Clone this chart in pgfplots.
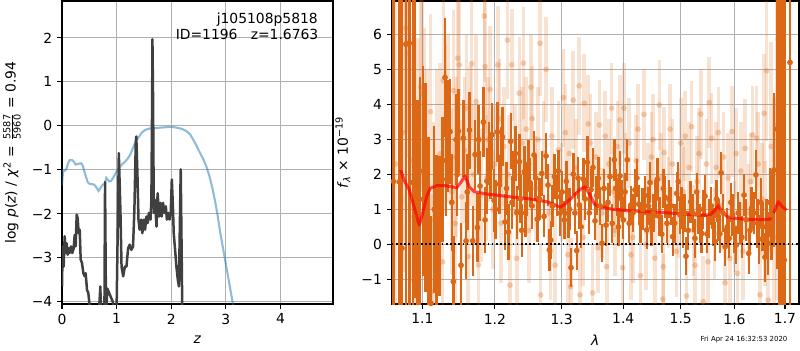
\documentclass[border=0pt]{standalone}
\usepackage{pgfplots}
\pgfplotsset{compat=1.18}
\usepackage{fontspec}
\setmainfont{DejaVu Sans}
\definecolor{dk}{RGB}{220,104,22}
\definecolor{gridc}{RGB}{176,176,176}
\definecolor{bl}{RGB}{31,119,180}
\definecolor{blk}{RGB}{64,64,64}
\pgfplotsset{myax/.style={scale only axis, tick align=outside, tick pos=left,
  major tick length=3.5pt, grid=major, major grid style={gridc, line width=0.8pt},
  axis line style={line width=0.8pt}, every tick/.style={black, line width=0.8pt},
  /pgf/number format/assume math mode=true,
  tick label style={font=\fontsize{10}{12}\selectfont},
  label style={font=\fontsize{10}{12}\selectfont}}}
\begin{document}
\begin{tikzpicture}
\useasboundingbox (0,0) rectangle (576pt,-252pt);
% ---------------- left panel ----------------
\begin{axis}[myax, at={(44.64pt,-218.88pt)}, anchor=south west,
  width=195.12pt, height=218.16pt,
  xmin=0, xmax=4.96, ymin=-4.05, ymax=2.84,
  xtick={0,1,2,3,4}, xticklabels={0,1,2,3,4},
  ytick={-4,-3,-2,-1,0,1,2}, yticklabels={−4,−3,−2,−1,0,1,2},
  xlabel={\textit{z}},
  ylabel={log \textit{p}(\textit{z}) / \textit{χ}\textsuperscript{2} = $\frac{\mbox{\fontsize{7}{7}\selectfont 5587}}{\mbox{\fontsize{7}{7}\selectfont 5960}}$ = 0.94},
  xlabel style={at={(axis description cs:0.5,-0.119)}, anchor=center},
  ylabel style={at={(axis description cs:-0.185,0.5)}, anchor=center},
]
\addplot[bl, opacity=0.5, line width=1.5pt] coordinates {
(0.0,-1.35) (0.02,-1.02) (0.05,-1.02) (0.08,-0.98) (0.11,-0.85) (0.14,-0.78) (0.19,-0.78)
(0.22,-0.82) (0.25,-0.88) (0.30,-0.86) (0.35,-0.85) (0.38,-0.90) (0.42,-1.08) (0.47,-1.28)
(0.51,-1.32) (0.58,-1.33) (0.62,-1.38) (0.67,-1.48) (0.72,-1.38) (0.75,-1.33) (0.78,-1.33)
(0.81,-1.18) (0.86,-1.26) (0.90,-1.25) (0.95,-1.15) (1.0,-1.03) (1.05,-0.95) (1.1,-0.87)
(1.15,-0.82) (1.2,-0.75) (1.25,-0.65) (1.3,-0.50) (1.35,-0.35) (1.4,-0.26) (1.45,-0.17)
(1.5,-0.11) (1.55,-0.08) (1.6,-0.06) (1.7,-0.05) (1.8,-0.04) (1.9,-0.03) (2.0,-0.02)
(2.1,-0.04) (2.2,-0.07) (2.28,-0.12) (2.35,-0.20) (2.4,-0.31) (2.45,-0.42) (2.52,-0.60)
(2.58,-0.74) (2.65,-0.95) (2.7,-1.15) (2.75,-1.40) (2.8,-1.70) (2.85,-2.05) (2.9,-2.45)
(2.95,-2.80) (3.0,-3.15) (3.05,-3.50) (3.1,-3.85) (3.15,-4.2) (3.2,-4.6)
};
\addplot[blk, line width=1.8pt, line join=round] coordinates {
(0.0,-3.65) (0.012,-2.74) (0.03,-3.2) (0.049,-2.51) (0.067,-2.89) (0.085,-2.67) (0.104,-2.93)
(0.122,-2.78) (0.14,-2.89) (0.165,-2.74) (0.189,-2.89) (0.214,-2.78) (0.232,-2.48) (0.25,-2.74)
(0.269,-2.02) (0.287,-2.10) (0.305,-2.44) (0.324,-2.36) (0.342,-3.04) (0.366,-3.12) (0.391,-3.35)
(0.415,-3.42) (0.433,-3.35) (0.458,-3.73) (0.482,-3.80) (0.507,-4.1) (0.53,-4.6) (0.66,-4.6)
(0.702,-3.65) (0.72,-4.6) (0.775,-4.6) (0.788,-1.28) (0.806,-4.3) (0.83,-3.7) (0.88,-3.85)
(0.93,-4.0) (0.97,-4.4) (1.0,-4.1) (1.04,-0.62) (1.07,-1.98) (1.09,-3.2) (1.12,-3.42)
(1.15,-3.2) (1.18,-3.2) (1.21,-2.78) (1.24,-2.70) (1.27,-2.82) (1.30,-2.74) (1.325,-1.91)
(1.35,-0.39) (1.36,-0.24) (1.38,-1.07) (1.40,-2.13) (1.42,-2.36) (1.45,-2.13) (1.47,-2.44)
(1.50,-2.13) (1.52,-2.36) (1.545,-2.06) (1.57,-2.21) (1.59,-1.98) (1.62,-2.13) (1.636,-1.68)
(1.65,0.6) (1.655,1.97) (1.667,0.6) (1.68,-1.98) (1.70,-1.68) (1.73,-2.29) (1.75,-1.53)
(1.78,-2.06) (1.80,-1.75) (1.825,-2.06) (1.85,-1.75) (1.874,-1.98) (1.90,-1.83) (1.92,-2.13)
(1.95,-1.98) (1.97,-2.13) (1.99,-1.98) (2.01,-1.22) (2.03,-1.83) (2.045,-2.44) (2.07,-2.82)
(2.094,-3.2) (2.12,-3.5) (2.14,-3.65) (2.155,-2.44) (2.173,-0.99) (2.186,-2.44) (2.20,-4.05)
(2.22,-4.8)
};
\node[anchor=east, font=\fontsize{10}{12}\selectfont, inner sep=0pt] at (axis description cs:0.945,0.937) {j105108p5818};
\node[anchor=east, font=\fontsize{10}{12}\selectfont, inner sep=0pt] at (axis description cs:0.947,0.890) {ID=1196\ \ \ z=1.6763};
\end{axis}
% ---------------- right panel ----------------
\begin{axis}[myax, at={(282.0pt,-218.88pt)}, anchor=south west,
  width=293.3pt, height=218.16pt,
  xmode=log, xmin=1.0603, xmax=1.7288, ymin=-1.71, ymax=6.97,
  xtick={1.1,1.2,1.3,1.4,1.5,1.6,1.7}, xticklabels={1.1,1.2,1.3,1.4,1.5,1.6,1.7},
  xminorticks=false,
  ytick={-1,0,1,2,3,4,5,6}, yticklabels={−1,0,1,2,3,4,5,6},
  xlabel={\textit{λ}},
  ylabel={\textit{f}\textsubscript{\textit{λ}} × 10\textsuperscript{−19}},
  xlabel style={at={(axis description cs:0.5,-0.119)}, anchor=center},
  ylabel style={at={(axis description cs:-0.1196,0.5)}, anchor=center},
  lightpts/.style={dk, only marks, mark=*, mark size=2.1pt,
    mark options={draw opacity=0, fill=dk, fill opacity=0.3},
    error bars/.cd, y dir=both, y explicit, error mark=none,
    error bar style={dk, line width=2.6pt, opacity=0.19}},
  darkpts/.style={dk, only marks, mark=*, mark size=2.1pt,
    mark options={draw opacity=0, fill=dk},
    error bars/.cd, y dir=both, y explicit, error mark=none,
    error bar style={dk, line width=1.75pt}},
]
% light (low weight) points
\addplot[lightpts] table[x index=0, y index=1, y error index=2] {
1.0650 2.3 5
1.0745 3.2 4
1.0787 6.19 3
1.0803 5.47 3
1.0850 2.4 3.5
1.0890 0.8 3
1.0940 2.9 3
1.0979 4.50 2.8
1.0992 4.30 2.8
1.1030 3.4 2.8
1.1060 2.2 2.8
1.1080 -0.83 2.8
1.1110 3.8 2.8
1.1124 -1.36 2.8
1.1150 0.7 2.8
1.1190 2.4 2.6
1.1236 2.59 2.6
1.1270 -0.5 2.6
1.1281 4.69 2.6
1.1310 3.3 2.4
1.1348 3.60 2.4
1.1394 1.51 2.4
1.1420 4.4 2.3
1.1440 0.6 2.3
1.1450 2.5 2.3
1.1477 5.33 2.3
1.1499 5.14 2.2
1.1532 1.36 2.2
1.1570 2.7 2.1
1.1600 3.9 2.1
1.1624 -0.35 2.0
1.1650 3.1 2.0
1.1671 5.17 2.0
1.1700 2.0 2.0
1.1733 4.09 1.9
1.1765 -0.59 1.9
1.1800 1.4 1.9
1.1851 6.54 1.9
1.1861 5.09 1.9
1.1880 1.9 1.8
1.1900 3.0 1.8
1.1931 4.44 1.8
1.1970 1.0 1.7
1.2000 2.3 1.7
1.2043 5.14 1.7
1.2070 3.6 1.7
1.2090 0.6 1.7
1.2130 2.8 1.7
1.2183 5.85 1.7
1.2200 2.0 1.7
1.2221 -1.17 1.6
1.2246 5.14 1.6
1.2290 2.4 1.6
1.2320 -0.40 1.6
1.2358 4.33 1.6
1.2400 2.9 1.6
1.2418 5.19 1.6
1.2460 3.3 1.5
1.2500 0.4 1.5
1.2530 4.5 1.5
1.2550 3.6 1.5
1.2600 1.6 1.5
1.2640 3.0 1.5
1.2669 5.76 1.5
1.2679 -1.45 1.5
1.2720 2.6 1.5
1.2761 5.01 1.5
1.2800 0.9 1.4
1.2830 -0.2 1.4
1.2850 3.1 1.4
1.2900 -0.6 1.4
1.2950 2.7 1.4
1.3000 1.5 1.4
1.3030 4.2 1.4
1.3060 3.2 1.4
1.3100 -0.3 1.4
1.3120 2.6 1.4
1.3144 -1.21 1.4
1.3185 4.13 1.4
1.3230 2.2 1.4
1.3280 4.54 1.4
1.3290 -1.45 1.4
1.3340 0.2 1.4
1.3360 4.04 1.4
1.3424 3.45 1.4
1.3460 2.9 1.4
1.3495 -1.39 1.4
1.3550 2.5 1.3
1.3580 -0.1 1.3
1.3604 3.42 1.3
1.3650 0.9 1.3
1.3700 3.1 1.3
1.3724 -0.64 1.3
1.3760 2.3 1.3
1.3806 3.90 1.3
1.3840 1.5 1.3
1.3860 0.4 1.3
1.3900 2.8 1.3
1.3945 3.56 1.3
1.3990 -0.67 1.3
1.4010 3.9 1.3
1.4040 1.9 1.3
1.4100 2.9 1.3
1.4130 -0.3 1.3
1.4160 0.2 1.3
1.4220 2.4 1.3
1.4250 3.3 1.3
1.4290 -0.9 1.3
1.4352 3.72 1.3
1.4390 0.0 1.3
1.4420 1.6 1.3
1.4480 2.5 1.3
1.4510 3.0 1.3
1.4540 -0.4 1.3
1.4619 3.99 1.3
1.4650 1.9 1.3
1.4679 -1.57 1.3
1.4690 -0.64 1.3
1.4702 2.63 1.3
1.4780 1.2 1.3
1.4810 3.3 1.3
1.4850 2.3 1.3
1.4920 -0.2 1.3
1.4960 0.9 1.3
1.5000 2.9 1.3
1.5050 1.5 1.3
1.5080 3.1 1.3
1.5106 -1.48 1.3
1.5150 2.2 1.3
1.5196 3.37 1.3
1.5230 0.4 1.3
1.5260 -0.6 1.3
1.5300 1.8 1.3
1.5330 2.6 1.3
1.5364 3.73 1.3
1.5411 -1.64 1.3
1.5470 2.3 1.3
1.5500 -0.5 1.3
1.5522 4.06 1.3
1.5566 3.04 1.3
1.5620 0.3 1.3
1.5650 2.2 1.3
1.5692 3.20 1.3
1.5750 1.1 1.3
1.5790 2.5 1.3
1.5820 -1.10 1.3
1.5880 1.9 1.3
1.5910 -0.4 1.3
1.5949 3.23 1.3
1.6000 0.5 1.3
1.6030 2.6 1.3
1.6056 -0.83 1.3
1.6120 2.1 1.4
1.6160 -0.2 1.4
1.6203 2.75 1.4
1.6270 0.9 1.4
1.6310 1.8 1.4
1.6351 3.13 1.4
1.6428 3.04 1.5
1.6460 2.3 1.5
1.6496 -1.45 1.5
1.6540 1.3 1.6
1.6580 3.75 1.7
1.6600 0.6 1.8
1.6628 4.97 2.0
1.6660 -1.60 2.3
1.6720 2.8 3
1.6780 0.2 4
1.6830 3.4 5
1.6860 5.88 6
1.6950 -0.6 8
};
% dark (high weight) points
\addplot[darkpts] table[x index=0, y index=1, y error index=2] {
1.0627 1.80 9
1.0701 1.79 9
1.0735 -0.11 9
1.0785 5.73 9
1.0830 5.76 9
1.0874 1.77 6
1.0904 3.47 5
1.0934 0.14 4
1.0970 1.29 3.5
1.1010 2.10 3.0
1.1045 1.62 3.0
1.1080 0.27 2.8
1.1115 -1.69 2.5
1.1159 1.00 2.4
1.1191 0.37 2.2
1.1227 0.53 2.0
1.1267 1.86 1.8
1.1304 4.78 1.7
1.1320 2.4 1.6
1.1335 3.11 1.6
1.1372 3.23 1.5
1.1395 1.2 1.4
1.1417 -1.07 1.3
1.1454 3.00 1.3
1.1470 2.0 1.2
1.1486 3.24 1.2
1.1523 -0.60 1.2
1.1555 3.04 1.1
1.1593 0.10 1.1
1.1610 1.5 1.1
1.1640 3.27 1.1
1.1686 0.10 1.0
1.1719 2.57 1.0
1.1752 0.48 1.0
1.1770 3.0 1.0
1.1789 1.67 1.0
1.1836 3.50 1.0
1.1860 0.7 0.95
1.1885 1.81 0.95
1.1917 2.60 0.9
1.1940 2.2 0.9
1.1957 3.14 0.9
1.1990 1.26 0.9
1.2010 1.0 0.85
1.2037 3.22 0.85
1.2066 1.72 0.85
1.2090 2.5 0.85
1.2110 3.08 0.85
1.2149 0.64 0.8
1.2170 1.6 0.75
1.2197 0.35 0.8
1.2232 2.95 0.8
1.2250 1.2 0.75
1.2270 1.88 0.8
1.2300 2.6 0.8
1.2320 0.91 0.75
1.2358 2.37 0.8
1.2375 1.3 0.7
1.2394 0.40 0.75
1.2433 2.08 0.75
1.2450 0.9 0.7
1.2468 1.57 0.75
1.2495 2.3 0.7
1.2518 1.77 0.7
1.2550 1.1 0.65
1.2578 2.56 0.7
1.2600 1.9 0.65
1.2628 0.72 0.65
1.2660 1.3 0.6
1.2695 2.03 0.65
1.2730 0.8 0.6
1.2761 2.53 0.65
1.2790 1.7 0.6
1.2811 -0.16 0.6
1.2833 0.12 0.55
1.2860 1.1 0.6
1.2889 1.94 0.65
1.2926 1.36 0.55
1.2950 2.1 0.6
1.2976 0.89 0.65
1.3010 1.5 0.6
1.3043 0.70 0.55
1.3075 1.8 0.6
1.3106 0.89 0.7
1.3125 1.0 0.6
1.3149 -0.67 0.55
1.3185 2.01 0.6
1.3210 0.9 0.6
1.3239 -0.18 0.55
1.3260 1.9 0.6
1.3280 1.13 0.7
1.3310 0.5 0.6
1.3344 1.87 0.6
1.3375 1.3 0.6
1.3408 2.35 0.75
1.3440 0.9 0.6
1.3468 1.57 0.6
1.3500 2.2 0.55
1.3533 0.67 0.55
1.3560 1.4 0.55
1.3587 1.89 0.6
1.3617 1.1 0.55
1.3647 0.03 0.55
1.3680 1.6 0.55
1.3713 0.55 0.6
1.3745 1.2 0.55
1.3779 1.94 0.55
1.3815 0.6 0.55
1.3850 2.42 0.6
1.3875 1.6 0.55
1.3900 1.36 0.55
1.3920 0.5 0.55
1.3945 1.96 0.7
1.3970 1.3 0.55
1.4000 0.70 0.55
1.4030 1.5 0.55
1.4067 2.42 0.6
1.4100 0.6 0.55
1.4130 1.13 0.55
1.4165 0.9 0.55
1.4198 1.56 0.6
1.4230 1.9 0.55
1.4262 1.15 0.55
1.4295 0.6 0.55
1.4330 1.00 0.6
1.4365 1.4 0.55
1.4400 0.41 0.55
1.4430 1.1 0.55
1.4456 1.77 0.6
1.4485 0.5 0.55
1.4514 0.89 0.55
1.4550 1.3 0.55
1.4584 1.86 0.6
1.4620 0.8 0.55
1.4661 0.29 0.55
1.4690 1.6 0.55
1.4720 1.35 0.6
1.4755 0.6 0.55
1.4790 1.29 0.55
1.4825 1.1 0.55
1.4856 0.22 0.55
1.4890 0.6 0.55
1.4927 1.46 0.6
1.4955 1.8 0.55
1.4986 0.84 0.55
1.5015 1.1 0.55
1.5046 0.50 0.6
1.5070 0.9 0.55
1.5094 -0.34 0.55
1.5135 0.4 0.55
1.5180 1.22 0.6
1.5220 0.9 0.55
1.5258 0.17 0.55
1.5290 1.5 0.55
1.5319 0.89 0.6
1.5350 0.6 0.55
1.5382 0.31 0.55
1.5410 1.0 0.55
1.5442 1.38 0.6
1.5480 0.3 0.55
1.5522 0.74 0.55
1.5560 1.1 0.55
1.5600 0.5 0.55
1.5630 0.08 0.55
1.5660 1.3 0.55
1.5692 0.70 0.6
1.5720 0.3 0.55
1.5744 2.05 0.6
1.5780 0.9 0.55
1.5820 -0.07 0.55
1.5860 0.5 0.55
1.5897 0.17 0.55
1.5930 1.2 0.55
1.5961 0.84 0.6
1.5995 0.3 0.55
1.6033 -0.02 0.55
1.6070 0.9 0.6
1.6105 0.60 0.6
1.6140 0.2 0.6
1.6183 1.41 0.6
1.6225 0.7 0.6
1.6274 -0.26 0.6
1.6300 0.4 0.6
1.6332 1.03 0.6
1.6375 0.9 0.6
1.6416 1.99 0.7
1.6450 0.6 0.7
1.6481 0.15 0.7
1.6515 1.2 0.7
1.6548 0.50 0.7
1.6594 -0.37 0.7
1.6625 0.5 0.8
1.6660 0.03 0.9
1.6695 1.2 1.0
1.6728 0.84 1.3
1.6775 2.13 2.2
1.6840 3.30 4
1.6882 4.54 9
1.6931 6.50 9
1.6984 -0.45 9
1.7101 5.21 9
};
% model
\addplot[red, opacity=0.7, line width=2.2pt, line join=round] coordinates {
(1.0718,2.13) (1.0761,1.84) (1.0829,1.56) (1.0904,0.98) (1.0960,0.55) (1.1005,0.89)
(1.1058,1.37) (1.1102,1.60) (1.1192,1.68) (1.1304,1.68) (1.1464,1.62) (1.1523,1.78)
(1.1578,1.96) (1.1638,1.65) (1.1704,1.51) (1.1884,1.44) (1.2270,1.35) (1.2518,1.30)
(1.2771,1.22) (1.2873,1.15) (1.2977,1.06) (1.3055,1.15) (1.3186,1.38) (1.3292,1.57)
(1.3372,1.65) (1.3452,1.41) (1.3533,1.13) (1.3642,1.06) (1.3834,1.00) (1.4114,0.96)
(1.4689,0.91) (1.5288,0.84) (1.5536,0.84) (1.5631,0.98) (1.5694,1.11) (1.5778,0.89)
(1.5886,0.77) (1.6106,0.73) (1.6478,0.70) (1.6696,0.72) (1.6795,0.98) (1.6860,1.22)
(1.6943,1.08) (1.7033,0.98)
};
\addplot[black, line width=1.5pt, dash pattern=on 1.3pt off 1.7pt] coordinates {(1.0603,0) (1.7288,0)};
\end{axis}
\node[anchor=east, font=\fontsize{5}{6}\selectfont, inner sep=0pt] at (567.1pt,-244.5pt) {Fri Apr 24 16:32:53 2020};
\end{tikzpicture}
\end{document}
